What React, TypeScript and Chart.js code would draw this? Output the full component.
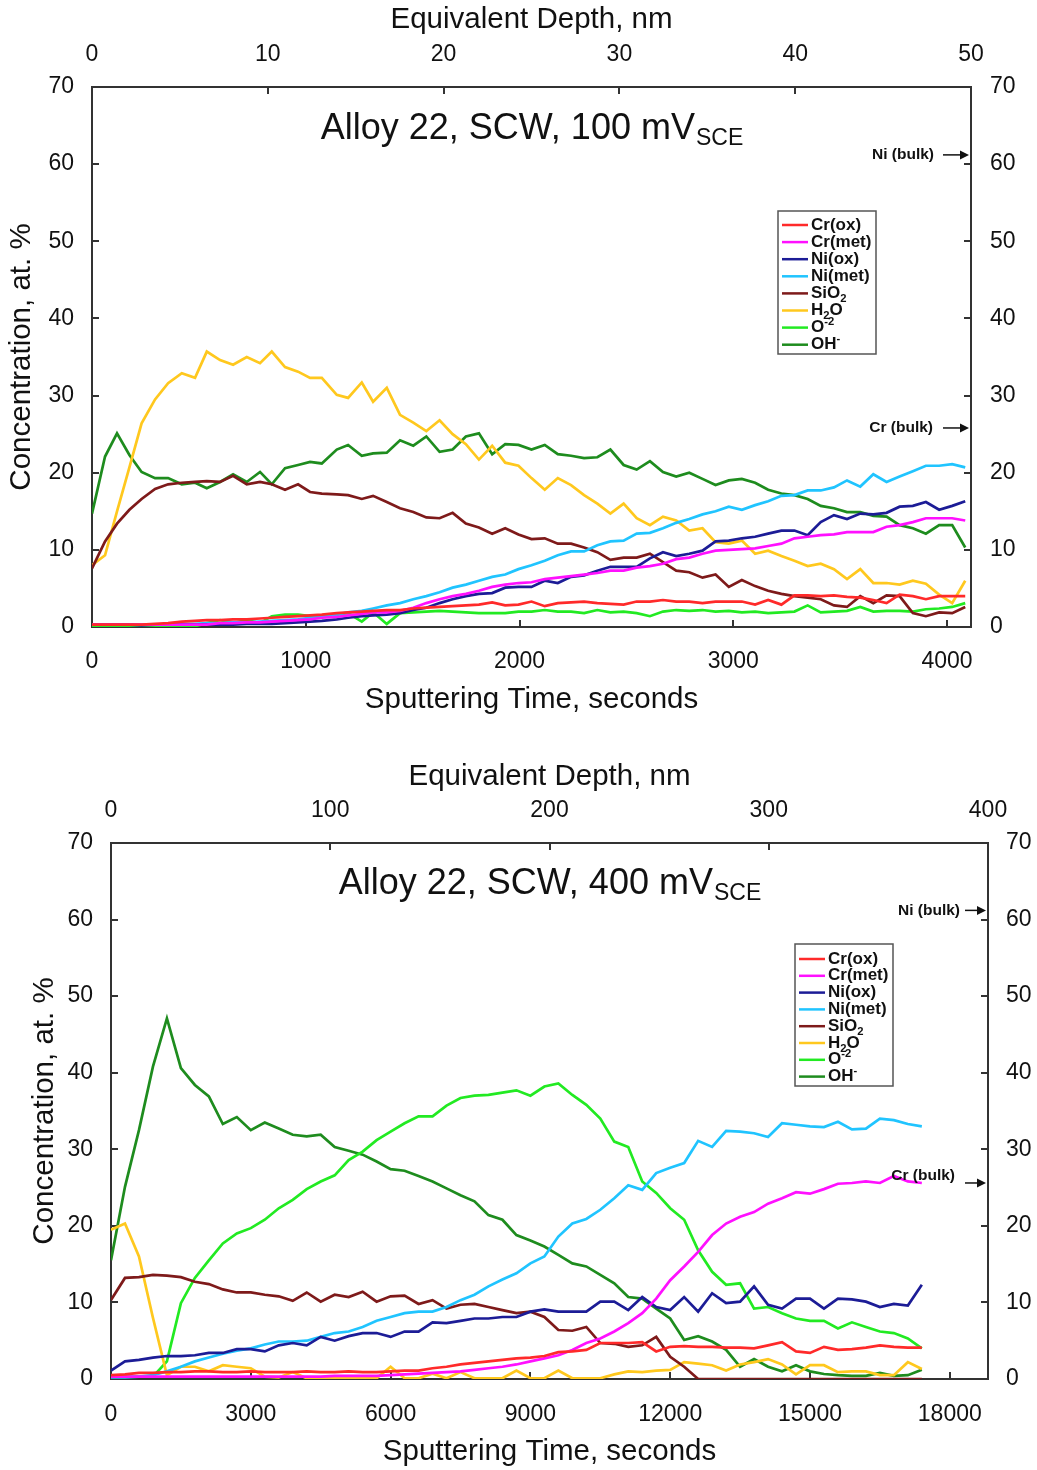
import React, { useEffect, useRef } from "react";
import { Chart, registerables } from "chart.js";

Chart.register(...registerables);

const FONT = "'Liberation Sans', Arial, Helvetica, sans-serif";

// ---------- Series meta ----------
const seriesColors = ["#ff2a2a", "#ff10ff", "#1c1c96", "#20c4ff", "#7e1a1a", "#ffc81e", "#22ea22", "#1e8c1e"];
// legend labels as rich parts: [text, kind] kind: "" | "sub" | "sup"
const legendLabels: [string, string][][] = [
  [["Cr(ox)", ""]],
  [["Cr(met)", ""]],
  [["Ni(ox)", ""]],
  [["Ni(met)", ""]],
  [["SiO", ""], ["2", "sub"]],
  [["H", ""], ["2", "sub"], ["O", ""]],
  [["O", ""], ["-2", "sup"]],
  [["OH", ""], ["-", "sup"]],
];

// ---------- Chart 1 : 100 mV ----------
const time1 = [0, 61, 117, 175, 232, 295, 356, 420, 482, 537, 599, 660, 724, 786, 841, 903, 964, 1020, 1075, 1145, 1198, 1262, 1315, 1379, 1441, 1503, 1564, 1626, 1687, 1749, 1810, 1872, 1933, 1995, 2056, 2118, 2179, 2241, 2302, 2364, 2425, 2487, 2548, 2610, 2671, 2733, 2794, 2856, 2917, 2979, 3040, 3102, 3163, 3225, 3286, 3348, 3409, 3471, 3532, 3594, 3655, 3717, 3778, 3840, 3901, 3963, 4024, 4085];
const crOx1 = [0.3, 0.3, 0.3, 0.3, 0.3, 0.4, 0.5, 0.7, 0.8, 0.9, 0.9, 1.0, 1.0, 1.1, 1.2, 1.3, 1.4, 1.5, 1.6, 1.8, 1.9, 2.0, 2.1, 2.2, 2.2, 2.4, 2.5, 2.6, 2.7, 2.8, 2.9, 3.2, 2.8, 2.9, 3.3, 2.7, 3.1, 3.2, 3.3, 3.1, 3.0, 2.9, 3.3, 3.3, 3.5, 3.3, 3.3, 3.1, 3.3, 3.3, 3.3, 2.9, 3.5, 2.9, 4.1, 4.1, 4.0, 4.1, 3.9, 3.8, 3.5, 3.1, 4.2, 4.0, 3.6, 4.0, 4.0, 4.0];
const crMet1 = [0.3, 0.3, 0.3, 0.3, 0.3, 0.3, 0.3, 0.3, 0.3, 0.3, 0.5, 0.5, 0.6, 0.6, 0.7, 0.8, 0.9, 1.0, 1.2, 1.3, 1.5, 1.7, 1.9, 1.9, 2.1, 2.5, 3.1, 3.6, 4.0, 4.3, 4.7, 5.2, 5.5, 5.7, 5.8, 6.2, 6.4, 6.6, 6.8, 7.0, 7.3, 7.3, 7.7, 7.9, 8.2, 8.8, 9.0, 9.5, 9.9, 10.0, 10.1, 10.2, 10.5, 10.8, 11.5, 11.7, 11.9, 12.0, 12.3, 12.3, 12.3, 13.0, 13.2, 13.6, 14.1, 14.1, 14.1, 13.8];
const niOx1 = [0.3, 0.3, 0.3, 0.3, 0.2, 0.3, 0.3, 0.3, 0.3, 0.3, 0.3, 0.3, 0.4, 0.4, 0.4, 0.5, 0.6, 0.7, 0.8, 1.0, 1.2, 1.4, 1.5, 1.6, 1.8, 2.2, 2.5, 3.1, 3.6, 4.0, 4.3, 4.4, 5.1, 5.2, 5.2, 6.0, 5.7, 6.5, 6.7, 7.3, 7.8, 7.8, 7.8, 8.9, 9.7, 9.2, 9.5, 9.9, 11.1, 11.2, 11.5, 11.7, 12.1, 12.5, 12.5, 11.9, 13.6, 14.5, 14.0, 14.7, 14.6, 14.8, 15.6, 15.7, 16.2, 15.2, 15.7, 16.3];
const niMet1 = [0.3, 0.3, 0.3, 0.3, 0.3, 0.3, 0.3, 0.4, 0.4, 0.5, 0.5, 0.6, 0.6, 0.7, 0.8, 0.9, 1.0, 1.2, 1.4, 1.6, 1.9, 2.1, 2.4, 2.8, 3.1, 3.6, 4.0, 4.5, 5.1, 5.5, 6.0, 6.5, 6.8, 7.5, 8.0, 8.6, 9.3, 9.8, 9.8, 10.6, 11.1, 11.2, 12.1, 12.2, 12.8, 13.5, 14.0, 14.6, 15.0, 15.6, 15.2, 15.8, 16.3, 17.0, 17.1, 17.7, 17.7, 18.1, 19.0, 18.2, 19.8, 18.8, 19.5, 20.2, 20.9, 20.9, 21.1, 20.7];
const sio21 = [7.6, 11.1, 13.4, 15.2, 16.6, 17.9, 18.5, 18.7, 18.8, 18.9, 18.8, 19.6, 18.5, 18.8, 18.5, 17.8, 18.5, 17.5, 17.3, 17.2, 17.1, 16.6, 17.0, 16.2, 15.4, 14.9, 14.2, 14.1, 14.8, 13.4, 12.9, 12.1, 12.8, 12.0, 11.4, 11.5, 10.8, 10.8, 10.3, 9.7, 8.7, 9.0, 9.0, 9.5, 8.4, 7.3, 7.1, 6.4, 6.8, 5.2, 6.1, 5.3, 4.7, 4.3, 4.0, 3.8, 3.6, 2.8, 2.6, 4.0, 3.1, 4.1, 4.0, 1.8, 1.4, 1.9, 1.8, 2.6];
const h2o1 = [8.0, 9.3, 15.0, 20.7, 26.4, 29.5, 31.6, 32.9, 32.3, 35.7, 34.6, 34.0, 35.0, 34.2, 35.7, 33.7, 33.1, 32.3, 32.3, 30.1, 29.7, 31.7, 29.2, 31.0, 27.5, 26.5, 25.4, 26.8, 25.0, 23.7, 21.7, 23.5, 21.3, 20.9, 19.3, 17.8, 19.3, 18.4, 17.1, 16.0, 14.7, 16.0, 14.1, 13.2, 14.3, 13.8, 12.5, 12.8, 11.0, 10.8, 11.2, 9.5, 9.9, 9.2, 8.6, 7.9, 8.2, 7.5, 6.2, 7.5, 5.7, 5.7, 5.5, 6.0, 5.6, 4.2, 3.1, 6.0];
const o2_1 = [0.1, 0.1, 0.1, 0.1, 0.1, 0.1, 0.1, 0.1, 0.1, 0.5, 0.9, 0.5, 0.9, 0.5, 1.4, 1.6, 1.6, 1.4, 1.4, 1.6, 1.8, 0.7, 1.9, 0.4, 1.8, 1.9, 2.0, 2.1, 2.0, 1.9, 1.8, 1.8, 1.8, 2.0, 2.0, 2.2, 2.0, 2.0, 1.8, 2.2, 1.9, 2.0, 1.8, 1.4, 2.0, 2.2, 2.1, 2.2, 2.0, 2.1, 1.9, 2.0, 1.8, 1.9, 2.0, 2.8, 1.9, 2.0, 2.1, 2.6, 2.0, 2.1, 2.1, 2.0, 2.3, 2.4, 2.6, 3.1];
const oh1 = [14.7, 22.1, 25.1, 22.3, 20.1, 19.3, 19.3, 18.5, 18.7, 18.0, 18.8, 19.8, 18.8, 20.1, 18.5, 20.6, 21.0, 21.4, 21.2, 23.0, 23.6, 22.2, 22.5, 22.6, 24.2, 23.5, 24.7, 22.7, 23.0, 24.7, 25.1, 22.4, 23.7, 23.6, 23.0, 23.6, 22.4, 22.2, 21.9, 22.0, 23.0, 21.0, 20.4, 21.5, 20.1, 19.5, 20.0, 19.2, 18.4, 19.0, 19.2, 18.7, 17.8, 17.3, 17.1, 16.6, 15.7, 15.4, 14.9, 14.9, 14.4, 14.3, 13.2, 12.8, 12.1, 13.2, 13.2, 10.3];

const xTicks1 = [0, 1000, 2000, 3000, 4000];
const depthTicks1 = [0, 10, 20, 30, 40, 50];

// ---------- Chart 2 : 400 mV ----------
const time2 = [0, 300, 600, 900, 1200, 1500, 1800, 2100, 2400, 2700, 3000, 3300, 3600, 3900, 4200, 4500, 4800, 5100, 5400, 5700, 6000, 6300, 6600, 6900, 7200, 7500, 7800, 8100, 8400, 8700, 9000, 9300, 9600, 9900, 10200, 10500, 10800, 11100, 11400, 11700, 12000, 12300, 12600, 12900, 13200, 13500, 13800, 14100, 14400, 14700, 15000, 15300, 15600, 15900, 16200, 16500, 16800, 17100, 17400];
const crOx2 = [0.5, 0.6, 0.8, 0.8, 0.9, 0.9, 1.0, 1.0, 0.9, 0.9, 1.0, 0.9, 0.9, 0.9, 1.0, 0.9, 0.9, 1.0, 0.9, 0.9, 1.0, 1.1, 1.1, 1.4, 1.6, 1.9, 2.1, 2.3, 2.5, 2.7, 2.8, 3.0, 3.5, 3.6, 3.8, 4.7, 4.7, 4.7, 4.8, 3.6, 4.2, 4.3, 4.2, 4.2, 4.1, 4.1, 4.0, 4.4, 4.8, 3.6, 3.4, 4.2, 3.8, 3.9, 4.1, 4.4, 4.2, 4.1, 4.1];
const crMet2 = [0.3, 0.3, 0.3, 0.3, 0.3, 0.3, 0.3, 0.3, 0.3, 0.3, 0.3, 0.3, 0.3, 0.3, 0.3, 0.3, 0.4, 0.4, 0.4, 0.4, 0.5, 0.6, 0.7, 0.8, 0.9, 1.0, 1.2, 1.4, 1.6, 1.9, 2.3, 2.7, 3.1, 3.8, 4.7, 5.3, 6.2, 7.3, 8.6, 10.5, 12.9, 14.7, 16.6, 18.8, 20.3, 21.2, 21.8, 22.9, 23.6, 24.4, 24.2, 24.8, 25.5, 25.6, 25.8, 25.6, 26.5, 25.8, 25.6];
const niOx2 = [1.1, 2.3, 2.5, 2.8, 3.0, 3.0, 3.1, 3.4, 3.4, 3.9, 3.9, 3.6, 4.4, 4.7, 4.4, 5.5, 5.0, 5.6, 6.0, 6.0, 5.5, 6.2, 6.2, 7.4, 7.3, 7.6, 7.9, 7.9, 8.1, 8.1, 8.8, 9.1, 8.8, 8.8, 8.8, 10.1, 10.1, 9.0, 10.7, 9.4, 9.0, 10.7, 8.8, 11.2, 9.9, 10.1, 12.1, 9.7, 9.2, 10.5, 10.5, 9.2, 10.5, 10.4, 10.1, 9.4, 9.8, 9.6, 12.3];
const niMet2 = [0.2, 0.2, 0.3, 0.5, 1.0, 1.6, 2.3, 2.8, 3.3, 3.7, 4.0, 4.5, 4.9, 4.9, 5.0, 5.5, 6.0, 6.2, 6.8, 7.6, 8.1, 8.6, 8.8, 8.8, 9.4, 10.3, 11.0, 12.1, 13.0, 13.8, 15.1, 16.0, 18.6, 20.3, 20.9, 22.1, 23.6, 25.3, 24.7, 26.9, 27.6, 28.2, 31.1, 30.3, 32.4, 32.3, 32.1, 31.6, 33.4, 33.2, 33.0, 32.9, 33.6, 32.6, 32.7, 34.0, 33.8, 33.3, 33.0];
const sio22 = [10.3, 13.2, 13.3, 13.6, 13.5, 13.3, 12.7, 12.4, 11.7, 11.3, 11.3, 11.0, 10.8, 10.2, 11.3, 10.1, 11.0, 10.7, 11.4, 10.1, 10.8, 10.9, 9.8, 10.3, 9.2, 9.7, 9.8, 9.4, 9.0, 8.6, 8.8, 8.1, 6.4, 6.3, 6.8, 4.7, 4.6, 4.2, 4.4, 5.5, 2.9, 1.6, 0, 0, 0, 0, 0, 0, 0, 0, 0, 0, 0, 0, 0, 0, 0, 0, 0];
const h2o2 = [19.5, 20.3, 16.0, 8.0, 0.5, 1.6, 1.6, 1.0, 1.8, 1.6, 1.4, 0.3, 0.2, 0.9, 0.1, 0.1, 0.1, 0.2, 0.1, 0.1, 1.6, 0.1, 0.1, 0.7, 0.1, 0.9, 0.1, 0.1, 0.1, 1.1, 0.1, 0.1, 1.1, 0.1, 0.1, 0.1, 0.6, 1.0, 0.9, 1.1, 1.2, 2.2, 2.0, 1.8, 1.1, 1.9, 2.2, 2.6, 1.9, 0.6, 1.8, 1.8, 0.9, 1.0, 1.0, 0.5, 0.5, 2.2, 1.3];
const o2_2 = [0.3, 0.3, 0.3, 0.3, 2.3, 9.9, 13.2, 15.5, 17.7, 19.0, 19.7, 20.8, 22.3, 23.4, 24.8, 25.8, 26.6, 28.6, 29.7, 31.2, 32.3, 33.4, 34.3, 34.3, 35.7, 36.7, 37.0, 37.1, 37.4, 37.7, 37.0, 38.2, 38.6, 37.1, 35.8, 34.0, 31.0, 30.3, 25.8, 24.3, 22.3, 20.8, 16.8, 14.0, 12.3, 12.5, 9.2, 9.4, 8.6, 7.9, 7.6, 7.6, 6.6, 7.4, 6.8, 6.2, 6.0, 5.3, 4.0];
const oh2 = [15.5, 25.1, 32.5, 40.8, 47.1, 40.6, 38.4, 36.9, 33.3, 34.2, 32.5, 33.5, 32.7, 31.9, 31.7, 31.9, 30.3, 29.8, 29.3, 28.4, 27.4, 27.2, 26.5, 25.8, 24.9, 24.0, 23.2, 21.4, 20.8, 18.8, 18.1, 17.3, 16.2, 15.1, 14.7, 13.6, 12.5, 10.7, 10.5, 9.2, 7.9, 5.1, 5.6, 4.9, 3.8, 1.6, 2.6, 1.6, 1.0, 1.8, 1.0, 0.65, 0.5, 0.4, 0.4, 0.8, 0.4, 0.5, 1.2];

const xTicks2 = [0, 3000, 6000, 9000, 12000, 15000, 18000];
const depthTicks2 = [0, 100, 200, 300, 400];

const yTicks = [0, 10, 20, 30, 40, 50, 60, 70];

// ---------- helpers ----------
function drawRich(ctx: CanvasRenderingContext2D, parts: [string, string][], x: number, y: number, size: number, bold: boolean) {
  let cx = x;
  for (const [t, k] of parts) {
    const s = k ? size * 0.66 : size;
    ctx.font = `${bold ? "bold " : ""}${s}px ${FONT}`;
    const dy = k === "sub" ? size * 0.32 : k === "sup" ? -size * 0.36 : 0;
    ctx.fillText(t, cx, y + dy);
    cx += ctx.measureText(t).width;
  }
}

const overlayPlugin = {
  id: "overlay",
  afterDraw(chart: any, _args: any, opts: any) {
    const ctx: CanvasRenderingContext2D = chart.ctx;
    const ca = chart.chartArea;
    const ys = chart.scales.y;
    ctx.save();
    // title with subscript
    ctx.fillStyle = "#111";
    ctx.textBaseline = "alphabetic";
    ctx.textAlign = "left";
    const mainFont = `36px ${FONT}`;
    const subFont = `23px ${FONT}`;
    ctx.font = mainFont;
    const w1 = ctx.measureText(opts.title).width;
    ctx.font = subFont;
    const w2 = ctx.measureText(opts.titleSub).width;
    const x0 = (ca.left + ca.right) / 2 - (w1 + w2) / 2;
    const by = ca.top + opts.titleDy;
    ctx.font = mainFont;
    ctx.fillText(opts.title, x0, by);
    ctx.font = subFont;
    ctx.fillText(opts.titleSub, x0 + w1 + 1, by + 6);

    // legend box
    const lb = opts.legend;
    ctx.fillStyle = "#fff";
    ctx.fillRect(lb.x, lb.y, lb.w, lb.h);
    ctx.strokeStyle = "#555";
    ctx.lineWidth = 1.5;
    ctx.strokeRect(lb.x, lb.y, lb.w, lb.h);
    ctx.textBaseline = "middle";
    legendLabels.forEach((parts, i) => {
      const ry = lb.y + lb.first + i * lb.row;
      ctx.strokeStyle = seriesColors[i];
      ctx.lineWidth = 2.5;
      ctx.beginPath();
      ctx.moveTo(lb.x + 4, ry);
      ctx.lineTo(lb.x + 30, ry);
      ctx.stroke();
      ctx.fillStyle = "#111";
      drawRich(ctx, parts, lb.x + 33, ry, 17, true);
    });

    // bulk annotations
    ctx.textBaseline = "middle";
    for (const a of opts.notes) {
      const yy = ys.getPixelForValue(a.value);
      ctx.fillStyle = "#111";
      ctx.font = `bold 15.5px ${FONT}`;
      ctx.textAlign = "right";
      ctx.fillText(a.text, ca.right - a.textGap, yy + a.textDy);
      const xs = ca.right - a.arrowLen;
      const xe = ca.right - 2;
      ctx.strokeStyle = "#111";
      ctx.lineWidth = 1.5;
      ctx.beginPath();
      ctx.moveTo(xs, yy);
      ctx.lineTo(xe - 6, yy);
      ctx.stroke();
      ctx.beginPath();
      ctx.moveTo(xe, yy);
      ctx.lineTo(xe - 9, yy - 4.5);
      ctx.lineTo(xe - 9, yy + 4.5);
      ctx.closePath();
      ctx.fill();
    }
    ctx.restore();
  },
};

function makeConfig(p: any) {
  const tickFont = { family: FONT, size: 23 };
  const titleFont = { family: FONT, size: 29.5 };
  const grid = { drawOnChartArea: false, drawTicks: true, tickLength: -7, color: "#333", lineWidth: 2 };
  const border = { display: true, color: "#333", width: 2 };
  const names = ["Cr(ox)", "Cr(met)", "Ni(ox)", "Ni(met)", "SiO2", "H2O", "O-2", "OH-"];
  const datasets = p.series.map((vals: number[], i: number) => ({
    label: names[i],
    data: vals.map((v, k) => ({ x: p.times[k], y: v })),
    borderColor: seriesColors[i],
    backgroundColor: seriesColors[i],
    borderWidth: 2.7,
    pointRadius: 0,
    tension: 0,
    fill: false,
  }));
  const lab = (v: any) => String(v);
  return {
    type: "line",
    data: { datasets },
    options: {
      responsive: false,
      animation: false,
      devicePixelRatio: 1,
      layout: { padding: 0 },
      plugins: { legend: { display: false }, tooltip: { enabled: false }, overlay: p.overlay },
      scales: {
        x: {
          type: "linear", position: "bottom", min: 0, max: p.xMax,
          afterFit: (s: any) => { s.height = p.bottomH; },
          afterBuildTicks: (s: any) => { s.ticks = p.xTicks.map((v: number) => ({ value: v })); },
          ticks: { font: tickFont, color: "#111", padding: p.xTickPad, autoSkip: false, maxRotation: 0, callback: lab },
          grid, border,
          title: { display: true, text: "Sputtering Time, seconds", font: titleFont, color: "#111", padding: { top: 0, bottom: p.xTitlePad } },
        },
        x2: {
          type: "linear", position: "top", min: 0, max: p.depthMax,
          afterFit: (s: any) => { s.height = p.topH; },
          afterBuildTicks: (s: any) => { s.ticks = p.depthTicks.map((v: number) => ({ value: v })); },
          ticks: { font: tickFont, color: "#111", padding: 26, autoSkip: false, maxRotation: 0, callback: lab },
          grid, border,
          title: { display: true, text: "Equivalent Depth, nm", font: titleFont, color: "#111", padding: { top: p.topTitlePad, bottom: 0 } },
        },
        y: {
          type: "linear", position: "left", min: 0, max: 70,
          afterFit: (s: any) => { s.width = p.leftW; },
          afterBuildTicks: (s: any) => { s.ticks = yTicks.map((v) => ({ value: v })); },
          ticks: { font: tickFont, color: "#111", padding: 25, autoSkip: false, callback: lab },
          grid, border,
          title: { display: true, text: "Concentration, at. %", font: titleFont, color: "#111", padding: { top: p.leftTitlePad, bottom: 0 } },
        },
        y2: {
          type: "linear", position: "right", min: 0, max: 70,
          afterFit: (s: any) => { s.width = p.rightW; },
          afterBuildTicks: (s: any) => { s.ticks = yTicks.map((v) => ({ value: v })); },
          ticks: { font: tickFont, color: "#111", padding: p.rightTickPad, autoSkip: false, callback: lab },
          grid, border,
        },
      },
    },
    plugins: [overlayPlugin],
  };
}

const config1 = () => makeConfig({
  times: time1,
  series: [crOx1, crMet1, niOx1, niMet1, sio21, h2o1, o2_1, oh1],
  xMax: 4112, xTicks: xTicks1, depthMax: 50, depthTicks: depthTicks1,
  bottomH: 108, topH: 87, leftW: 92, rightW: 66,
  xTickPad: 28.2, xTitlePad: 17.3, topTitlePad: 2.3, leftTitlePad: 4.3, rightTickPad: 26,
  overlay: {
    title: "Alloy 22, SCW, 100 mV", titleSub: "SCE", titleDy: 52,
    legend: { x: 778, y: 211, w: 98, h: 143, first: 14, row: 17.1 },
    notes: [
      { text: "Ni (bulk)", value: 61.2, textGap: 37, textDy: 0, arrowLen: 28 },
      { text: "Cr (bulk)", value: 25.8, textGap: 38, textDy: 0, arrowLen: 28 },
    ],
  },
});

const config2 = () => makeConfig({
  times: time2,
  series: [crOx2, crMet2, niOx2, niMet2, sio22, h2o2, o2_2, oh2],
  xMax: 18820, xTicks: xTicks2, depthMax: 400, depthTicks: depthTicks2,
  bottomH: 91, topH: 108, leftW: 111, rightW: 49,
  xTickPad: 29.2, xTitlePad: 0, topTitlePad: 24.3, leftTitlePad: 27.3, rightTickPad: 25,
  overlay: {
    title: "Alloy 22, SCW, 400 mV", titleSub: "SCE", titleDy: 51,
    legend: { x: 795, y: 209, w: 98, h: 142, first: 15, row: 16.8 },
    notes: [
      { text: "Ni (bulk)", value: 61.2, textGap: 28, textDy: 0, arrowLen: 23 },
      { text: "Cr (bulk)", value: 25.6, textGap: 33, textDy: -7, arrowLen: 23 },
    ],
  },
});

function ChartCanvas({ make, top }: { make: () => any; top: number }) {
  const ref = useRef<HTMLCanvasElement>(null);
  useEffect(() => {
    const chart = new Chart(ref.current as HTMLCanvasElement, make());
    return () => chart.destroy();
  }, []);
  return (
    <canvas
      ref={ref}
      width={1037}
      height={735}
      style={{ position: "absolute", left: 0, top, width: 1037, height: 735 }}
    />
  );
}

export default function App() {
  return (
    <div style={{ position: "absolute", left: 0, top: 0, width: 1037, height: 1470, background: "#fff" }}>
      <ChartCanvas make={config1} top={0} />
      <ChartCanvas make={config2} top={735} />
    </div>
  );
}
